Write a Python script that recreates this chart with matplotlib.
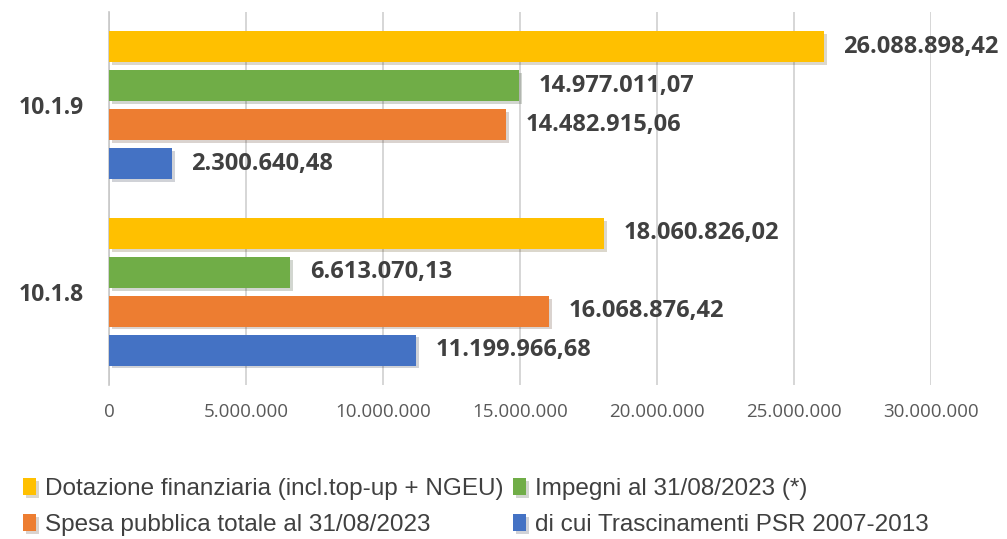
import numpy as np
import matplotlib.pyplot as plt
import matplotlib.patheffects as pe

# categories (bottom to top) and series
categories = ['10.1.8', '10.1.9']
series_names = ['Dotazione finanziaria (incl.top-up + NGEU)',
                'Impegni al 31/08/2023 (*)',
                'Spesa pubblica totale al 31/08/2023',
                'di cui Trascinamenti PSR 2007-2013']
dotazione = [18060826.02, 26088898.42]
impegni = [6613070.13, 14977011.07]
spesa = [16068876.42, 14482915.06]
trascinamenti = [11199966.68, 2300640.48]
colors = ['#FFC000', '#70AD47', '#ED7D31', '#4472C4']
xticks = [0, 5e6, 10e6, 15e6, 20e6, 25e6, 30e6]


def fmt_it(v, dec=2):
    s = f'{v:,.{dec}f}'
    return s.replace(',', 'X').replace('.', ',').replace('X', '.')


fig = plt.figure(figsize=(10.07, 5.39), dpi=100)
ax = fig.add_axes([109 / 1007, 1 - 385 / 539, (931 - 109) / 1007, (385 - 12) / 539])

y = np.arange(len(categories))
step = 0.2086
height = 0.166
offsets = [1.5 * step, 0.5 * step, -0.5 * step, -1.5 * step]
all_series = [dotazione, impegni, spesa, trascinamenti]

shadow = [pe.SimplePatchShadow(offset=(2, -2), alpha=0.2), pe.Normal()]
for vals, off, col, name in zip(all_series, offsets, colors, series_names):
    bars = ax.barh(y + off, vals, height=height, color=col, label=name, zorder=3)
    for b in bars:
        b.set_path_effects(shadow)
    for yy, v in zip(y + off, vals):
        ax.annotate(fmt_it(v), (v, yy), xytext=(14, 0), textcoords='offset points',
                    va='center', ha='left', fontsize=17, fontweight='bold',
                    color='#404040', family=['Open Sans', 'DejaVu Sans'], zorder=4)

ax.set_xlim(0, 30e6)
ax.set_ylim(-0.5, 1.5)
ax.set_xticks(xticks)
ax.set_xticklabels([fmt_it(t, 0) if t else '0' for t in xticks],
                   fontsize=13.5, color='#595959', family=['Open Sans', 'DejaVu Sans'])
ax.set_yticks(y)
ax.set_yticklabels(categories, fontsize=16.5, fontweight='bold', color='#404040',
                   family=['Open Sans', 'DejaVu Sans'])
ax.tick_params(axis='both', length=0)
ax.tick_params(axis='x', pad=13)
ax.tick_params(axis='y', pad=18)
ax.grid(axis='x', color='#d0d0d0', linewidth=1.2, zorder=0)
for s in ['top', 'right', 'bottom']:
    ax.spines[s].set_visible(False)
ax.spines['left'].set_color('#c8c8c8')
ax.spines['left'].set_linewidth(1.2)

handles, labels = ax.get_legend_handles_labels()
order = [0, 2, 1, 3]
leg = fig.legend([handles[i] for i in order], [labels[i] for i in order],
                 loc='upper left', bbox_to_anchor=(23 / 1007, 1 - 478 / 539),
                 ncol=2, frameon=False, borderpad=0, borderaxespad=0,
                 handlelength=0.55, handleheight=0.7,
                 handletextpad=0.35, columnspacing=0.4, labelspacing=0.58,
                 prop={'family': ['Liberation Sans', 'DejaVu Sans'], 'size': 17.5})
for t in leg.get_texts():
    t.set_color('#404040')

fig.savefig('out.png', dpi=100)
